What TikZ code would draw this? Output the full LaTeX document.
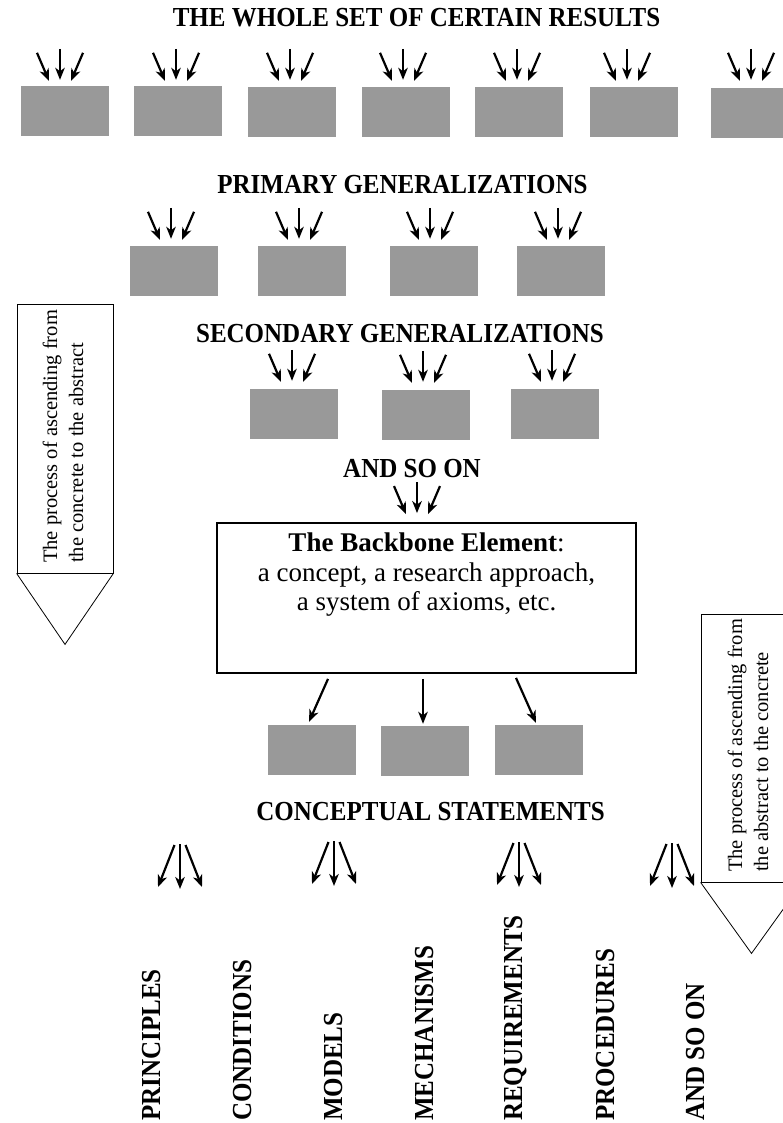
\documentclass[tikz,border=0pt]{standalone}
\usepackage{fontspec}
\setmainfont{Liberation Serif}
\usetikzlibrary{arrows.meta,calc}
\definecolor{boxgray}{HTML}{999999}

% three arrows converging on the top edge of a node: #1 node, #2 x offset, #3 gap above
\newcommand\triIn[3]{%
  \coordinate (#1-s1) at ($(#1.north)+(#2-23,-#3-28)$);
  \coordinate (#1-s2) at ($(#1.north)+(#2,-#3-32)$);
  \coordinate (#1-s3) at ($(#1.north)+(#2+23,-#3-28)$);
  \coordinate (#1-e1) at ($(#1.north)+(#2-11,-#3)$);
  \coordinate (#1-e2) at ($(#1.north)+(#2,-#3-1)$);
  \coordinate (#1-e3) at ($(#1.north)+(#2+11,-#3)$);
  \draw[arr] (#1-s1) -- (#1-e1);
  \draw[arr] (#1-s2) -- (#1-e2);
  \draw[arr] (#1-s3) -- (#1-e3);
}
% three arrows fanning out downwards: #1 name, #2 x, #3 top y
\newcommand\triOut[3]{%
  \coordinate (#1-s1) at (#2-5.5,#3+1);
  \coordinate (#1-s2) at (#2,#3);
  \coordinate (#1-s3) at (#2+5.5,#3+1);
  \coordinate (#1-e1) at (#2-22,#3+43);
  \coordinate (#1-e2) at (#2,#3+45);
  \coordinate (#1-e3) at (#2+22,#3+43);
  \draw[arr] (#1-s1) -- (#1-e1);
  \draw[arr] (#1-s2) -- (#1-e2);
  \draw[arr] (#1-s3) -- (#1-e3);
}

\begin{document}
\begin{tikzpicture}[x=1pt,y=-1pt,
  gbox/.style={fill=boxgray, draw=none, minimum width=88pt, minimum height=50pt, inner sep=0pt},
  arr/.style={line width=2.2pt, -{Stealth[length=12pt,width=9.5pt,inset=3.5pt]}},
  head/.style={font=\fontsize{25}{28}\selectfont\bfseries, inner sep=0pt, anchor=base, yscale=1.1},
  vlab/.style={font=\fontsize{25}{28}\selectfont\bfseries, inner sep=0pt, rotate=90, yscale=1.1, anchor=base west},
  note/.style={font=\fontsize{20.5}{26}\selectfont, inner sep=0pt, rotate=90, align=left, anchor=west},
  body/.style={font=\fontsize{27}{30}\selectfont, inner sep=0pt, anchor=base},
  pent/.style={draw, line width=0.8pt},
]
\useasboundingbox (0,0) rectangle (783,1123);
\clip (0,0) rectangle (783,1123);

% headings
\node[head] (t1) at (416.5,27) {THE WHOLE SET OF CERTAIN RESULTS};
\node[head] (t2) at (402.5,194) {PRIMARY GENERALIZATIONS};
\node[head] (t3) at (400,342) {SECONDARY GENERALIZATIONS};
\node[head] (t4) at (412,477) {AND SO ON};
\node[head] (t5) at (430.5,820) {CONCEPTUAL STATEMENTS};

% certain results
\node[gbox] (r1) at (65,111) {};
\node[gbox] (r2) at (178,111) {};
\node[gbox] (r3) at (292,112) {};
\node[gbox] (r4) at (406,112) {};
\node[gbox] (r5) at (519,112) {};
\node[gbox] (r6) at (634,112) {};
\node[gbox] (r7) at (755,113) {};
\triIn{r1}{-5}{5}
\triIn{r2}{-2}{5}
\triIn{r3}{-2}{6}
\triIn{r4}{-3}{6}
\triIn{r5}{-2}{6}
\triIn{r6}{-7}{6}
\triIn{r7}{-4}{7}

% primary generalizations
\node[gbox] (p1) at (174,271) {};
\node[gbox] (p2) at (302,271) {};
\node[gbox] (p3) at (434,271) {};
\node[gbox] (p4) at (561,271) {};
\triIn{p1}{-3}{6}
\triIn{p2}{-3}{6}
\triIn{p3}{-4}{6}
\triIn{p4}{-3}{6}

% secondary generalizations
\node[gbox] (s1) at (294,414) {};
\node[gbox] (s2) at (426,415) {};
\node[gbox] (s3) at (555,414) {};
\triIn{s1}{-2}{7}
\triIn{s2}{-3}{7}
\triIn{s3}{-3}{7}

% backbone element
\node[draw, line width=1.8pt, minimum width=419pt, minimum height=150pt, inner sep=0pt] (bb) at (426.5,598) {};
\triIn{bb}{-9.5}{8}
\node[body] (bb1) at (426.5,551) {\textbf{The Backbone Element}:};
\node[body] (bb2) at (426.5,581) {a concept, a research approach,};
\node[body] (bb3) at (426.5,610) {a system of axioms, etc.};

% conceptual statements
\node[gbox] (c1) at (312,750) {};
\node[gbox] (c2) at (425,751) {};
\node[gbox] (c3) at (539,750) {};
\draw[arr] ($(bb.south)+(-98.5,5)$) -- ($(c1.north)+(-3,-3)$);
\draw[arr] ($(bb.south)+(-3.5,5)$) -- ($(c2.north)+(-2,-2)$);
\draw[arr] ($(bb.south)+(89.5,4)$) -- ($(c3.north)+(-3,-2)$);

\triOut{f1}{180}{844}
\triOut{f2}{334}{841}
\triOut{f3}{519}{842}
\triOut{f4}{672}{843}

% kinds of statements
\node[vlab] (l1) at (160,1121) {PRINCIPLES};
\node[vlab] (l2) at (251,1121) {CONDITIONS};
\node[vlab] (l3) at (342,1121) {MODELS};
\node[vlab] (l4) at (433,1121) {MECHANISMS};
\node[vlab] (l5) at (522,1121) {REQUIREMENTS};
\node[vlab] (l6) at (614,1121) {PROCEDURES};
\node[vlab] (l7) at (704,1121) {AND SO ON};

% process arrows
\node[pent, minimum width=96pt, minimum height=269pt, inner sep=0pt] (up) at (65,438.5) {};
\coordinate (up-tip) at ($(up.south)+(0,71)$);
\draw[pent] (up.south west) -- (up-tip) -- (up.south east);
\node[note] (upt) at (63,563) {The process of ascending from\\the concrete to the abstract};

\node[pent, minimum width=101pt, minimum height=268pt, inner sep=0pt] (dn) at (751.5,748) {};
\coordinate (dn-tip) at ($(dn.south)+(0,71)$);
\draw[pent] (dn.south west) -- (dn-tip) -- (dn.south east);
\node[note] (dnt) at (748,872) {The process of ascending from\\the abstract to the concrete};
\end{tikzpicture}
\end{document}
